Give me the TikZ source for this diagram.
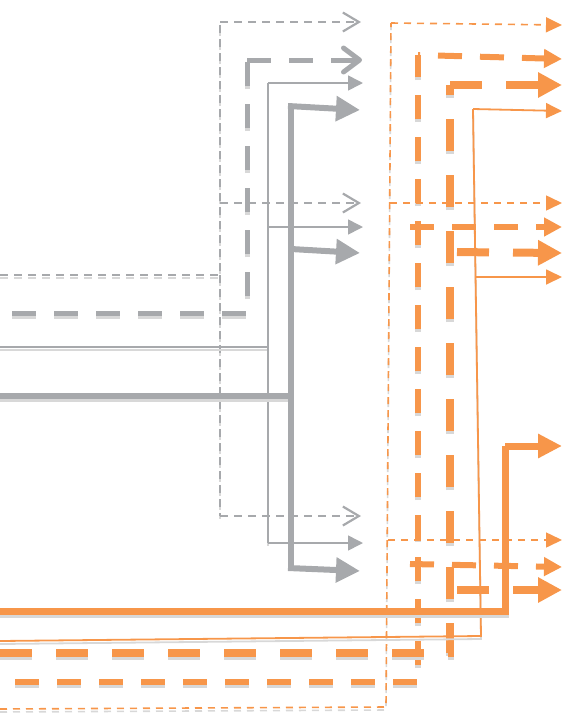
\documentclass[tikz,border=0pt]{standalone}
\usetikzlibrary{arrows.meta}
\definecolor{lg}{HTML}{A7A9AC}
\definecolor{og}{HTML}{F7964A}
\definecolor{sh}{HTML}{D8D8D8}
\newcommand\mytrunk[2]{\draw[#1,sh,yshift=-3pt]#2;\draw[#1]#2;}
\begin{document}
\begin{tikzpicture}[x=1pt,y=-1pt,
  gdot/.style={lg,line width=1.5pt,dash pattern=on 8pt off 6pt},
  gdash/.style={lg,line width=5pt,dash pattern=on 24pt off 18pt,dash phase=30pt},
  gthin/.style={lg,line width=1.6pt},
  gthick/.style={lg,line width=6pt},
  odot/.style={og,line width=1.6pt,dash pattern=on 7pt off 6pt},
  odash/.style={og,line width=6pt,dash pattern=on 24pt off 18pt,dash phase=27pt},
  othdash/.style={og,line width=8pt,dash pattern=on 32pt off 24pt},
  othin/.style={og,line width=1.8pt},
  othick/.style={og,line width=7pt},
  tgdot/.style={-{Straight Barb[length=16pt,width=19pt,line width=2.2pt]}},
  tgdash/.style={-{Straight Barb[length=16pt,width=24pt,round]}},
  tgthin/.style={-{Triangle[length=15pt,width=15pt]}},
  tgthick/.style={-{Triangle[length=24pt,width=24pt]}},
  todot/.style={-{Triangle[length=16pt,width=15pt]}},
  todash/.style={-{Triangle[length=18pt,width=18pt]}},
  tothdash/.style={-{Triangle[length=24pt,width=24pt]}},
  tothin/.style={-{Triangle[length=16pt,width=15pt]}},
  tothick/.style={-{Triangle[length=24pt,width=23pt]}}
]
\useasboundingbox (0,0) rectangle (566,713);
% ---- gray trunks ----
\mytrunk{gdot}{(0,275) -- (220,275) -- (220,22)}
\mytrunk{gdot}{(220,275) -- (220,516)}
\mytrunk{gdash}{(0,313) -- (247,313) -- (247,60)}
\mytrunk{gthin}{(0,347) -- (268,347) -- (268,83)}
\mytrunk{gthin}{(268,347) -- (268,543)}
\mytrunk{gthick}{(0,396) -- (291,396) -- (291,106)}
\mytrunk{gthick}{(291,396) -- (291,568)}
% ---- gray branches ----
\draw[gdot,tgdot] (220,22) -- (361,22);
\draw[gdot,tgdot] (220,203) -- (361,203);
\draw[gdot,tgdot] (220,516) -- (361,516);
\draw[gdash,tgdash,dash phase=0pt] (247,60) -- (362,60);
\draw[gthin,tgthin] (268,83) -- (363,83);
\draw[gthin,tgthin] (268,227) -- (363,227);
\draw[gthin,tgthin] (268,543) -- (363,543);
\draw[gthick,tgthick] (288,106) -- (360,110);
\draw[gthick,tgthick] (291,249) -- (360,253);
\draw[gthick,tgthick] (288,568) -- (360,571);
% ---- orange trunks ----
\mytrunk{odot}{(0,709) -- (386,707) -- (391,23)}
\mytrunk{odash}{(0,682) -- (418,682) -- (418,55)}
\mytrunk{othdash}{(0,653) -- (450,653) -- (450,85)}
\mytrunk{othin}{(0,641) -- (481,636) -- (473,109)}
\mytrunk{othick}{(0,611) -- (505,611) -- (505,446)}
% ---- orange branches ----
\draw[odot,todot] (391,23) -- (562,25);
\draw[odot,todot] (390,203) -- (562,203);
\draw[odot,todot] (388,540) -- (562,540);
\draw[odash,todash,dash phase=-20pt] (418,55) -- (562,59);
\draw[odash,todash,dash phase=0pt] (410,227) -- (562,227);
\draw[odash,todash,dash phase=0pt] (410,564) -- (562,567);
\draw[othdash,tothdash] (450,85) -- (562,85);
\draw[othdash,tothdash,dash phase=-7pt] (450,252) -- (562,253);
\draw[othdash,tothdash,dash phase=-7pt] (450,590) -- (562,590);
\draw[othin,tothin] (473,109) -- (562,111);
\draw[othin,tothin] (475,277) -- (562,277);
\draw[othick,tothick] (505,446) -- (562,446);
\end{tikzpicture}
\end{document}
